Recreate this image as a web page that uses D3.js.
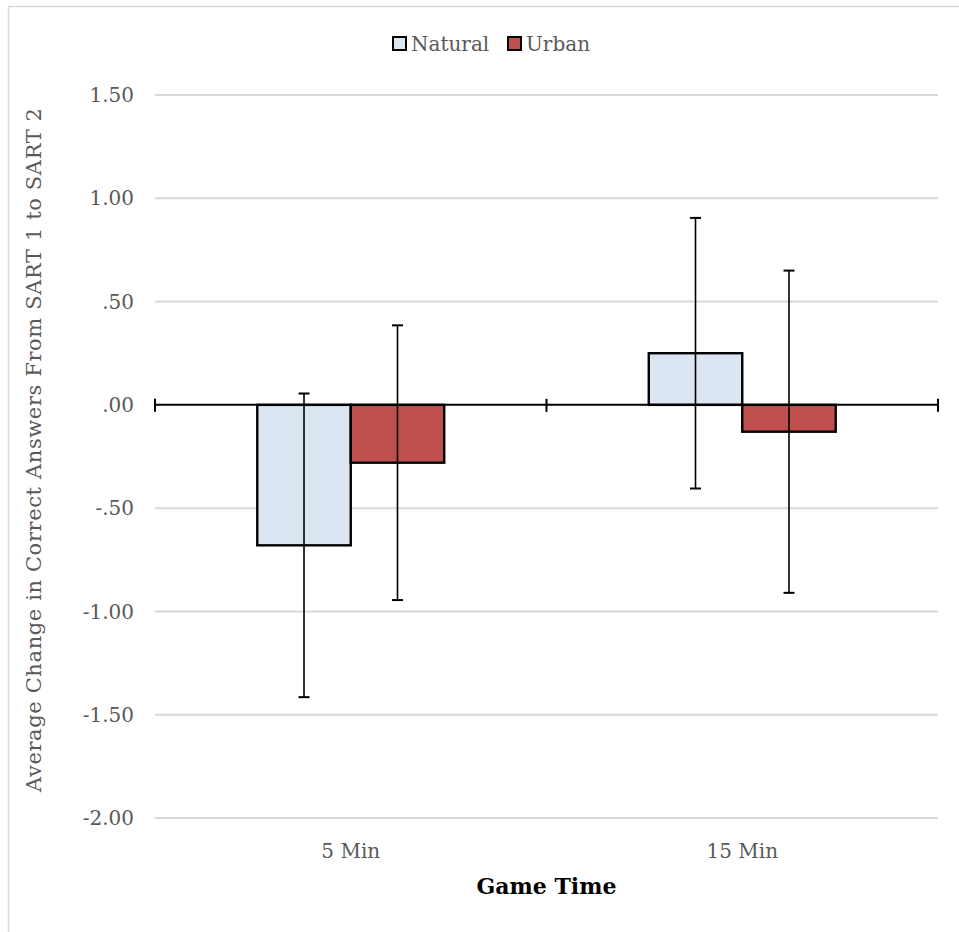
<!DOCTYPE html>
<meta charset="utf-8">
<style>
body { margin: 0; background: #fff; }
svg text { font-family: "DejaVu Serif", serif; }
.grid line { stroke: #d9d9d9; stroke-width: 2; }
.ticklabel { fill: #595959; font-size: 20px; }
.bar { stroke: #000; stroke-width: 2.4; }
.err { stroke: #000; stroke-width: 1.6; fill: none; }
</style>
<body>
<div id="chart"></div>
<script src="https://d3js.org/d3.v7.min.js"></script>
<script>
// data
var categories = ["5 Min", "15 Min"];
var seriesNames = ["Natural", "Urban"];
var seriesColors = ["#dce6f2", "#c0504d"];
var naturalMeans = [-0.68, 0.25];
var naturalErr = [0.735, 0.655];
var urbanMeans = [-0.28, -0.13];
var urbanErr = [0.665, 0.78];
var yTicks = [1.5, 1.0, 0.5, 0.0, -0.5, -1.0, -1.5, -2.0];
var yTickLabels = ["1.50", "1.00", ".50", ".00", "-.50", "-1.00", "-1.50", "-2.00"];

var W = 959, H = 932;
var plotLeft = 155, plotRight = 938, plotTop = 95, plotBottom = 818;

var svg = d3.select("#chart").append("svg")
    .attr("width", W)
    .attr("height", H);

// outer chart border (only top/left visible in the picture)
svg.append("rect")
    .attr("x", 8.5).attr("y", 6.5)
    .attr("width", W).attr("height", H)
    .attr("fill", "none")
    .attr("stroke", "#d9d9d9")
    .attr("stroke-width", 1.5);

var y = d3.scaleLinear().domain([-2, 1.5]).range([plotBottom, plotTop]);
var x0 = d3.scaleBand().domain(categories).range([plotLeft, plotRight]);
var x1 = d3.scaleBand().domain(seriesNames).range([0, x0.bandwidth()])
    .paddingInner(0).paddingOuter(1.094);

// gridlines
svg.append("g").attr("class", "grid")
  .selectAll("line")
  .data(yTicks.filter(function(d) { return d !== 0; }))
  .enter().append("line")
    .attr("x1", plotLeft).attr("x2", plotRight)
    .attr("y1", function(d) { return y(d); })
    .attr("y2", function(d) { return y(d); });

// y tick labels
svg.append("g").selectAll("text")
  .data(yTicks)
  .enter().append("text")
    .attr("class", "ticklabel")
    .attr("x", 134)
    .attr("y", function(d) { return y(d); })
    .attr("dy", "0.36em")
    .attr("text-anchor", "end")
    .text(function(d, i) { return yTickLabels[i]; });

// bars
var rows = categories.map(function(c, i) {
  return [
    {cat: c, s: "Natural", v: naturalMeans[i], e: naturalErr[i], color: seriesColors[0]},
    {cat: c, s: "Urban", v: urbanMeans[i], e: urbanErr[i], color: seriesColors[1]}
  ];
});
var flat = rows[0].concat(rows[1]);

svg.append("g").selectAll("rect")
  .data(flat)
  .enter().append("rect")
    .attr("class", "bar")
    .attr("x", function(d) { return x0(d.cat) + x1(d.s); })
    .attr("width", x1.bandwidth())
    .attr("y", function(d) { return y(Math.max(0, d.v)); })
    .attr("height", function(d) { return Math.abs(y(d.v) - y(0)); })
    .attr("fill", function(d) { return d.color; });

// zero axis with ticks at category boundaries
svg.append("line")
    .attr("x1", plotLeft).attr("x2", plotRight)
    .attr("y1", y(0)).attr("y2", y(0))
    .attr("stroke", "#000").attr("stroke-width", 2);
var bounds = [plotLeft].concat(categories.map(function(c) { return x0(c) + x0.bandwidth(); }));
svg.append("g").selectAll("line")
  .data(bounds)
  .enter().append("line")
    .attr("x1", function(d) { return d; }).attr("x2", function(d) { return d; })
    .attr("y1", y(0) - 6).attr("y2", y(0) + 7)
    .attr("stroke", "#000").attr("stroke-width", 2);

// error bars
var eg = svg.append("g").selectAll("g")
  .data(flat)
  .enter().append("g").attr("class", "err");
function cx(d) { return x0(d.cat) + x1(d.s) + x1.bandwidth() / 2; }
eg.append("line")
    .attr("x1", cx).attr("x2", cx)
    .attr("y1", function(d) { return y(d.v + d.e); })
    .attr("y2", function(d) { return y(d.v - d.e); });
eg.append("line")
    .attr("x1", function(d) { return cx(d) - 5.5; })
    .attr("x2", function(d) { return cx(d) + 5.5; })
    .attr("y1", function(d) { return y(d.v + d.e); })
    .attr("y2", function(d) { return y(d.v + d.e); })
    .attr("stroke-width", 2);
eg.append("line")
    .attr("x1", function(d) { return cx(d) - 5.5; })
    .attr("x2", function(d) { return cx(d) + 5.5; })
    .attr("y1", function(d) { return y(d.v - d.e); })
    .attr("y2", function(d) { return y(d.v - d.e); })
    .attr("stroke-width", 2);

// category labels
svg.append("g").selectAll("text")
  .data(categories)
  .enter().append("text")
    .attr("class", "ticklabel")
    .attr("x", function(d) { return x0(d) + x0.bandwidth() / 2; })
    .attr("y", 858)
    .attr("text-anchor", "middle")
    .text(function(d) { return d; });

// axis titles
svg.append("text")
    .attr("x", (plotLeft + plotRight) / 2)
    .attr("y", 894)
    .attr("text-anchor", "middle")
    .attr("font-weight", "bold")
    .attr("font-size", "22px")
    .attr("fill", "#000")
    .text("Game Time");

svg.append("text")
    .attr("transform", "translate(33,450) rotate(-90)")
    .attr("text-anchor", "middle")
    .attr("dy", "0.36em")
    .attr("font-size", "21px")
    .attr("textLength", 684)
    .attr("lengthAdjust", "spacing")
    .attr("fill", "#595959")
    .text("Average Change in Correct Answers From SART 1 to SART 2");

// legend
var legend = svg.append("g");
var legX = [393, 508];
seriesNames.forEach(function(s, i) {
  legend.append("rect")
      .attr("x", legX[i]).attr("y", 37)
      .attr("width", 13).attr("height", 13)
      .attr("fill", seriesColors[i])
      .attr("stroke", "#000").attr("stroke-width", 2);
  legend.append("text")
      .attr("class", "ticklabel")
      .attr("x", legX[i] + 18).attr("y", 43.5)
      .attr("dy", "0.36em")
      .text(s);
});
</script>
</body>
